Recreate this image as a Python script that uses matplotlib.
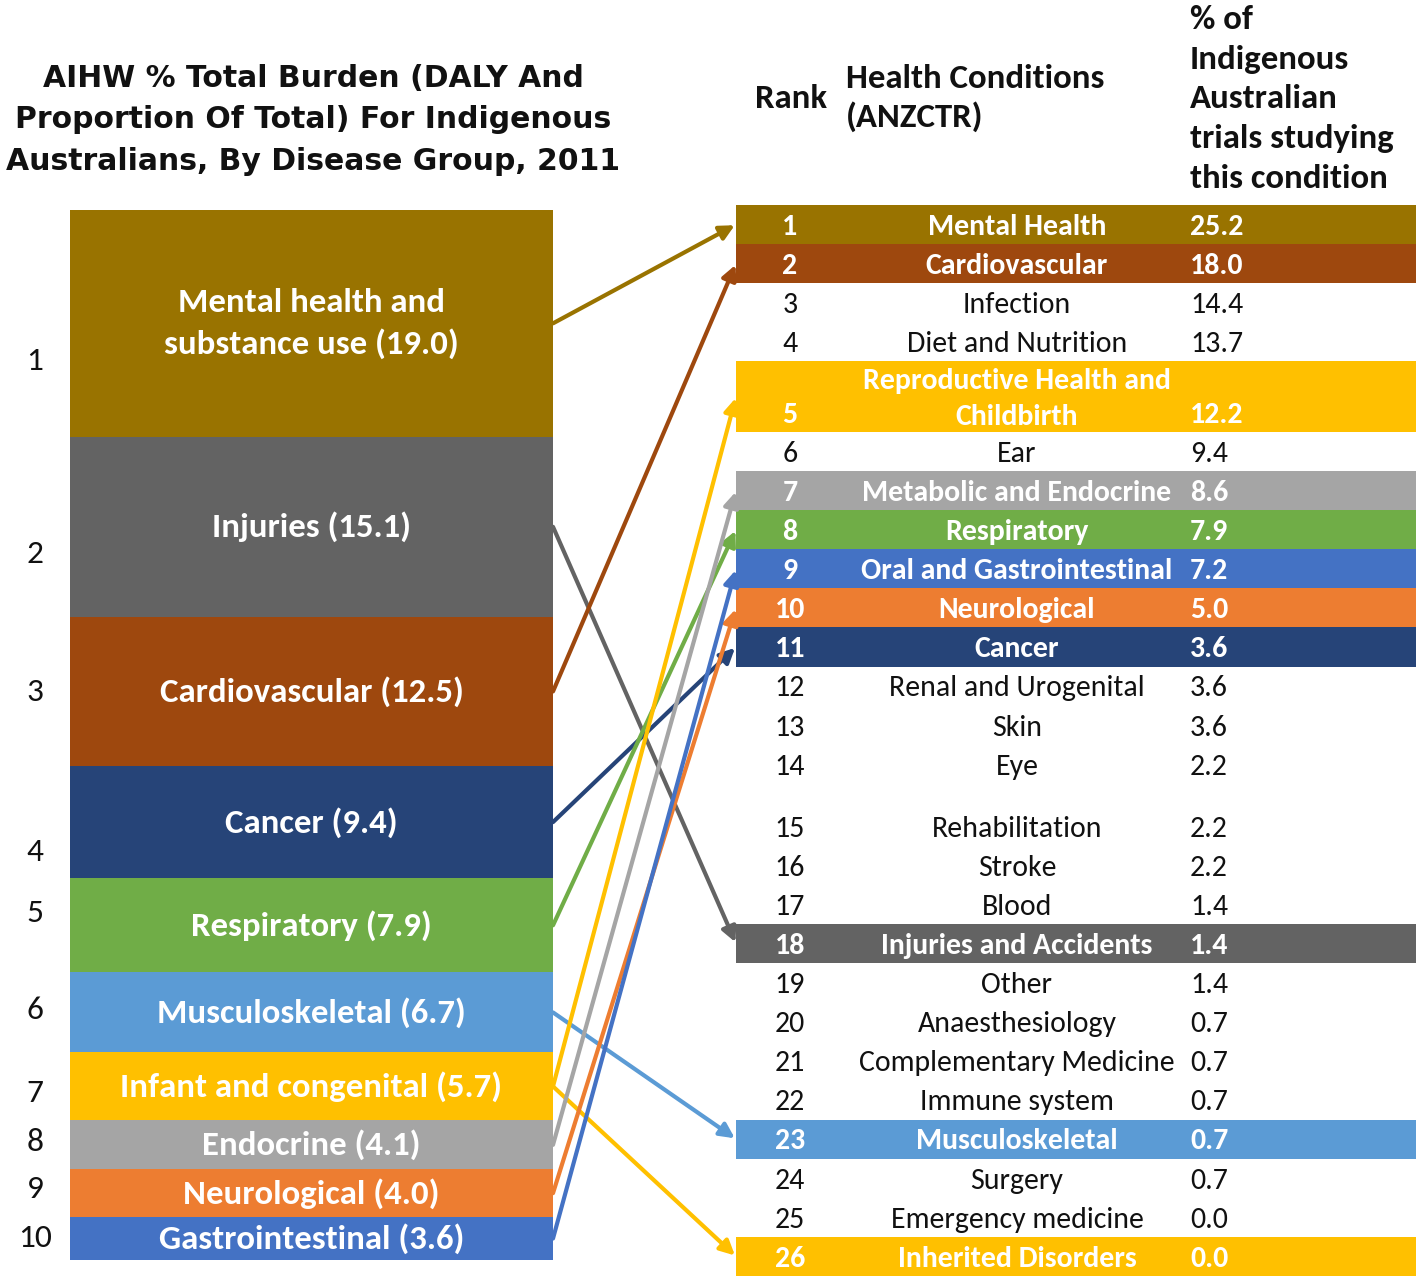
import numpy as np
import matplotlib.pyplot as plt
from matplotlib import font_manager
from matplotlib.patches import ConnectionPatch

# AIHW burden by disease group (left stacked bar)
groups = ["Mental health and\nsubstance use", "Injuries", "Cardiovascular", "Cancer",
          "Respiratory", "Musculoskeletal", "Infant and congenital", "Endocrine",
          "Neurological", "Gastrointestinal"]
burden = [19.0, 15.1, 12.5, 9.4, 7.9, 6.7, 5.7, 4.1, 4.0, 3.6]
group_colors = ["#997300", "#636363", "#9E480E", "#264478", "#70AD47",
                "#5B9BD5", "#FFC000", "#A5A5A5", "#ED7D31", "#4472C4"]

# ANZCTR health conditions table (right)
ranks = list(range(1, 27))
conditions = ["Mental Health", "Cardiovascular", "Infection", "Diet and Nutrition",
              "Reproductive Health and\nChildbirth", "Ear", "Metabolic and Endocrine",
              "Respiratory", "Oral and Gastrointestinal", "Neurological", "Cancer",
              "Renal and Urogenital", "Skin", "Eye", "Rehabilitation", "Stroke", "Blood",
              "Injuries and Accidents", "Other", "Anaesthesiology",
              "Complementary Medicine", "Immune system", "Musculoskeletal", "Surgery",
              "Emergency medicine", "Inherited Disorders"]
pct_trials = [25.2, 18.0, 14.4, 13.7, 12.2, 9.4, 8.6, 7.9, 7.2, 5.0, 3.6, 3.6, 3.6,
              2.2, 2.2, 2.2, 1.4, 1.4, 1.4, 0.7, 0.7, 0.7, 0.7, 0.7, 0.0, 0.0]

# which table ranks each burden group points to
links = {0: [1], 1: [18], 2: [2], 3: [11], 4: [8], 5: [23], 6: [5, 26],
         7: [7], 8: [10], 9: [9]}

# layout of the table rows (in row units)
row_h = np.ones(len(ranks))
row_h[4] = 1.8     # two-line row
row_h[13] = 1.58   # blank gap after "Eye"
text_h = np.ones(len(ranks))
text_h[4] = 1.8
# the rank numbers beside the bar sit a little off the segment centres (px)
rank_nudge = [38, 27, 1, 30, -12, -2, 7, -3, -4, -1]

# Calibri look-alike if present, otherwise Lato (slightly wider -> smaller sizes)
try:
    font_manager.findfont("Carlito", fallback_to_default=False)
    font, k = "Carlito", 1.0
except ValueError:
    font, k = "Lato", 0.93

W, H = 1416, 1277
fig = plt.figure(figsize=(W / 100, H / 100), dpi=100)

# ---- left stacked bar ----
ax_bar = fig.add_axes([70 / W, 1 - 1260 / H, 483 / W, 1050 / H])
bottoms = np.concatenate([[0], np.cumsum(burden)[:-1]])
ax_bar.bar(0, burden, bottom=bottoms, width=1, color=group_colors)
ax_bar.set_xlim(-0.5, 0.5)
ax_bar.set_ylim(sum(burden), 0)
ax_bar.axis("off")
centers = bottoms + np.array(burden) / 2
px_per_unit = 1050 / sum(burden)
for i, (g, v) in enumerate(zip(groups, burden)):
    ax_bar.text(0, centers[i], f"{g} ({v:.1f})", ha="center", va="center",
                color="white", fontsize=25 * k, fontweight="bold", family=font,
                linespacing=1.45)
    ax_bar.text(-35 / 483, centers[i] + rank_nudge[i] / px_per_unit, str(i + 1),
                transform=ax_bar.get_yaxis_transform(),
                ha="center", va="center", fontsize=24 * k, family=font, color="#111111")

# ---- right table ----
ax_tab = fig.add_axes([736 / W, 1 - 1276 / H, 680 / W, 1071 / H])
tops = np.concatenate([[0], np.cumsum(row_h)[:-1]])
ax_tab.set_xlim(0, 1)
ax_tab.set_ylim(row_h.sum(), 0)
ax_tab.axis("off")

row_color = {}
for gi, rs in links.items():
    for r in rs:
        row_color[r] = group_colors[gi]

hl = [r for r in ranks if r in row_color]
ax_tab.barh([tops[r - 1] + text_h[r - 1] / 2 for r in hl], 1, left=0,
            height=[text_h[r - 1] for r in hl], color=[row_color[r] for r in hl])

rank_x, name_x, pct_x = 54 / 680, 281 / 680, 454 / 680
dy = 0.06
for i, r in enumerate(ranks):
    on = r in row_color
    kw = dict(color="white" if on else "#111111", fontweight="bold" if on else "normal",
              family=font, fontsize=21.5 * k, va="center")
    y_last = tops[i] + text_h[i] - 0.5 + dy
    ax_tab.text(rank_x, y_last, str(r), ha="center", **kw)
    ax_tab.text(name_x, tops[i] + text_h[i] / 2 + dy, conditions[i], ha="center",
                linespacing=1.44, **kw)
    ax_tab.text(pct_x, y_last, f"{pct_trials[i]:.1f}", ha="left", **kw)

# ---- arrows ----
for gi, rs in links.items():
    for r in rs:
        con = ConnectionPatch(xyA=(0.5, centers[gi]), coordsA=ax_bar.transData,
                              xyB=(0, tops[r - 1] + text_h[r - 1] / 2), coordsB=ax_tab.transData,
                              arrowstyle="-|>", mutation_scale=22, lw=3,
                              color=group_colors[gi], shrinkA=0, shrinkB=1)
        fig.add_artist(con)

# ---- titles / headers ----
fig.text(313 / W, 1 - 120 / H,
         "AIHW % Total Burden (DALY And\nProportion Of Total) For Indigenous\n"
         "Australians, By Disease Group, 2011",
         ha="center", va="center", fontsize=21.5, fontweight="bold",
         family="DejaVu Sans", linespacing=1.56, color="#111111")
hdr = dict(family=font, fontsize=25 * k, fontweight="semibold", color="#111111", va="center")
fig.text(755 / W, 1 - 98 / H, "Rank", ha="left", **hdr)
fig.text(846 / W, 1 - 98 / H, "Health Conditions\n(ANZCTR)", ha="left", linespacing=1.35, **hdr)
fig.text(1190 / W, 1 - 99 / H, "% of\nIndigenous\nAustralian\ntrials studying\nthis condition",
         ha="left", linespacing=1.44, **hdr)

fig.savefig("out.png", dpi=100)
